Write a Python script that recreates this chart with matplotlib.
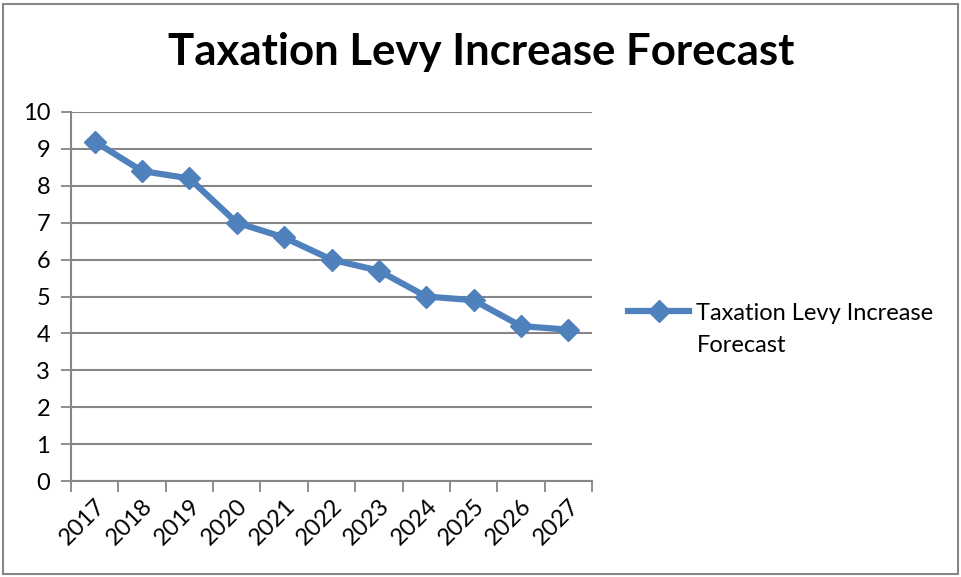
import matplotlib
matplotlib.use("Agg")
import matplotlib.pyplot as plt
from matplotlib.patches import Rectangle

# forecast series
years = ["2017", "2018", "2019", "2020", "2021", "2022",
         "2023", "2024", "2025", "2026", "2027"]
levy = [9.2, 8.4, 8.2, 7.0, 6.6, 6.0, 5.7, 5.0, 4.9, 4.2, 4.1]
series_name = "Taxation Levy Increase Forecast"
yticks = list(range(0, 11))

blue = "#4F81BD"
grey = "#868686"
plt.rcParams["font.family"] = ["Lato", "DejaVu Sans"]

fig = plt.figure(figsize=(9.61, 5.77), dpi=100)
ax = fig.add_axes([71 / 961, 1 - 481 / 577, (592 - 71) / 961, (481 - 112) / 577])

x = list(range(len(years)))
ax.plot(x, levy, color=blue, lw=4.5, marker="D", ms=11, mec=blue,
        mfc=blue, label=series_name, solid_joinstyle="round", zorder=3)

ax.set_xlim(-0.5, len(years) - 0.5)
ax.set_ylim(0, 10)
ax.set_yticks(yticks)
ax.set_yticklabels([str(t) for t in yticks], fontsize=17)

# category labels sit between the tick marks
ax.set_xticks([i - 0.5 for i in range(len(years) + 1)])
ax.set_xticklabels([])
ax.set_xticks(x, minor=True)
ax.set_xticklabels(years, minor=True, rotation=45, ha="right",
                   rotation_mode="anchor", fontsize=17)
ax.tick_params(axis="x", which="major", length=8, width=1.3, color=grey, direction="out")
ax.tick_params(axis="x", which="minor", length=0, pad=10)
ax.tick_params(axis="y", length=7, width=1.3, color=grey, pad=8)

ax.grid(axis="y", color=grey, lw=1.5)
ax.set_axisbelow(True)
for side in ["top", "right"]:
    ax.spines[side].set_visible(False)
for side in ["left", "bottom"]:
    ax.spines[side].set_color(grey)
    ax.spines[side].set_linewidth(1.5)

fig.text(481 / 961, 1 - 52 / 577, series_name, ha="center", va="center",
         fontsize=31.5, fontweight="bold")

# legend entry; the label wraps onto a second line under the first
leg = fig.legend(handles=ax.get_lines(), labels=["Taxation Levy Increase"],
                 loc="center left", bbox_to_anchor=(628 / 961, 1 - 313 / 577),
                 frameon=False, fontsize=17, handlelength=2.6, handletextpad=0.3,
                 borderaxespad=0, borderpad=0)
fig.canvas.draw()
lab = leg.get_texts()[0]
bb = lab.get_window_extent().transformed(fig.transFigure.inverted())
fig.text(bb.x0, bb.y0 - 32 / 577, "Forecast", fontsize=17, ha="left", va="bottom")

# outer chart border
fig.patches.append(Rectangle((3 / 961, 3 / 577), 955 / 961, 570 / 577,
                             transform=fig.transFigure, fill=False,
                             edgecolor=grey, lw=1.5))

fig.savefig("out.png", dpi=100)
